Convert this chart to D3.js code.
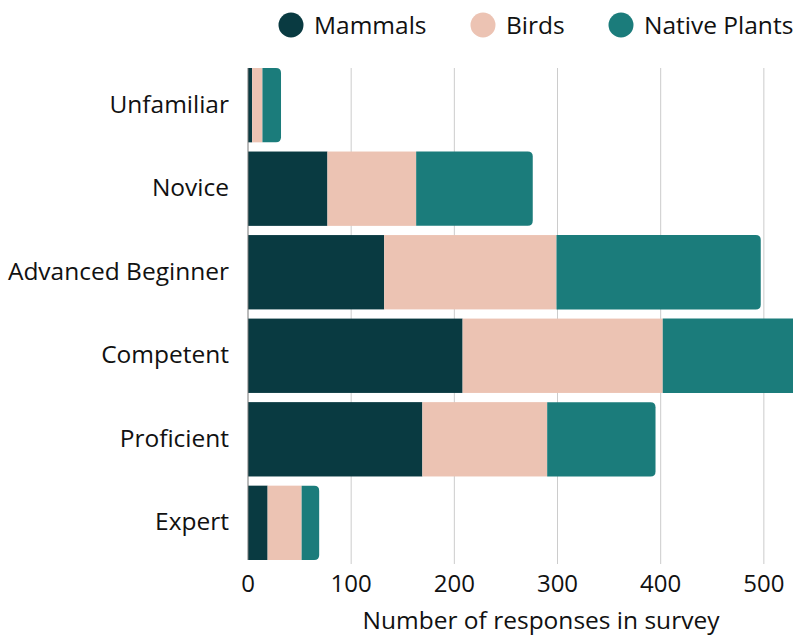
<!DOCTYPE html>
<html><head><meta charset="utf-8">
<script src="https://cdn.jsdelivr.net/npm/d3@7"></script>
<style>body{margin:0;background:#fff}svg{display:block;font-family:"Open Sans",sans-serif}</style>
</head><body><svg id="c" width="793" height="635"></svg>
<script>
const categories = ["Unfamiliar","Novice","Advanced Beginner","Competent","Proficient","Expert"];
const seriesNames = ["Mammals","Birds","Native Plants"];
const mammals = [4, 77, 132, 208, 169, 19];
const birds = [10, 86, 167, 194, 121, 33];
const nativePlants = [18, 113, 198, 166, 105, 17];
const xTicks = [0,100,200,300,400,500];
const colors = ["#093a41","#ecc3b3","#1b7c7b"];
const xTitle = "Number of responses in survey";

const svg = d3.select("#c");
const data = categories.map((c,i)=>({cat:c, Mammals:mammals[i], Birds:birds[i], "Native Plants":nativePlants[i]}));
const stack = d3.stack().keys(seriesNames)(data);
const maxTotal = d3.max(data, d=>d.Mammals+d.Birds+d["Native Plants"]);
const x = d3.scaleLinear().domain([0, maxTotal]).range([248, 834]);
const y = d3.scaleBand().domain(categories).range([68, 560]).paddingInner(0.11).paddingOuter(0);

svg.append("g").selectAll("line").data(xTicks.filter(t=>t>0)).join("line")
  .attr("x1",d=>x(d)).attr("x2",d=>x(d)).attr("y1",68).attr("y2",564)
  .attr("stroke","#cccccc").attr("stroke-width",1);

const r = 5;
function roundedRight(x0,x1,y0,h){
  const w = x1-x0; const rr = Math.min(r, w);
  return `M${x0},${y0}H${x1-rr}Q${x1},${y0} ${x1},${y0+rr}V${y0+h-rr}Q${x1},${y0+h} ${x1-rr},${y0+h}H${x0}Z`;
}
stack.forEach((s,si)=>{
  const g = svg.append("g").attr("fill",colors[si]);
  if(si<stack.length-1){
    g.selectAll("rect").data(s).join("rect")
      .attr("x",d=>x(d[0])).attr("width",d=>x(d[1])-x(d[0]))
      .attr("y",d=>y(d.data.cat)).attr("height",y.bandwidth());
  } else {
    g.selectAll("path").data(s).join("path")
      .attr("d",d=>roundedRight(x(d[0]),x(d[1]),y(d.data.cat),y.bandwidth()));
  }
});

svg.append("line").attr("x1",248).attr("x2",248).attr("y1",68).attr("y2",560)
  .attr("stroke","#777").attr("stroke-width",1);

svg.append("g").selectAll("text").data(categories).join("text")
  .attr("x",229).attr("y",d=>y(d)+y.bandwidth()/2 - 1).attr("dy","0.35em")
  .attr("text-anchor","end").attr("font-size",24.5).attr("fill","#111").text(d=>d);

svg.append("g").selectAll("text").data(xTicks).join("text")
  .attr("x",d=>x(d)).attr("y",592).attr("text-anchor","middle")
  .attr("font-size",24).attr("fill","#111").text(d=>d);

svg.append("text").attr("x",(x.range()[0]+x.range()[1])/2).attr("y",629)
  .attr("text-anchor","middle").attr("font-size",24.5).attr("fill","#111").text(xTitle);

const legX = [291, 483, 621];
const lg = svg.append("g");
seriesNames.forEach((n,i)=>{
  lg.append("circle").attr("cx",legX[i]).attr("cy",25).attr("r",12.5).attr("fill",colors[i]);
  lg.append("text").attr("x",legX[i]+23).attr("y",25).attr("dy","0.35em")
    .attr("font-size",24.5).attr("fill","#111").text(n);
});
</script></body></html>
